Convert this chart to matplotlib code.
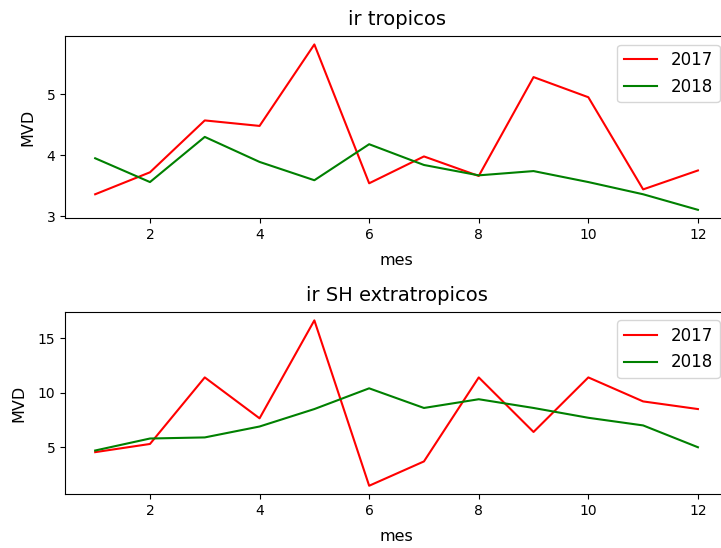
import matplotlib.pyplot as plt
from matplotlib.ticker import MultipleLocator

# months
mes = [1, 2, 3, 4, 5, 6, 7, 8, 9, 10, 11, 12]

# ir tropicos
trop_2017 = [3.36, 3.72, 4.57, 4.48, 5.815, 3.54, 3.98, 3.66, 5.28, 4.95, 3.44, 3.75]
trop_2018 = [3.95, 3.56, 4.30, 3.89, 3.59, 4.18, 3.84, 3.67, 3.74, 3.56, 3.36, 3.105]

# ir SH extratropicos
sh_2017 = [4.55, 5.3, 11.4, 7.65, 16.63, 1.47, 3.7, 11.4, 6.4, 11.4, 9.2, 8.5]
sh_2018 = [4.7, 5.8, 5.9, 6.9, 8.5, 10.4, 8.6, 9.4, 8.6, 7.7, 7.0, 5.0]

fig = plt.figure(figsize=(7.21, 5.48), dpi=100)

# top panel
ax1 = fig.add_axes([0.0902, 0.602, 0.9196, 0.332])
ax1.plot(mes, trop_2017, color='red', label='2017')
ax1.plot(mes, trop_2018, color='green', label='2018')
ax1.set_title('ir tropicos', fontsize=14, pad=8)
ax1.set_xlabel('mes', fontsize=11.5, labelpad=8)
ax1.set_ylabel('MVD', fontsize=11.5, labelpad=8)
ax1.yaxis.set_major_locator(MultipleLocator(1))
ax1.legend(loc='upper right', fontsize=12)

# bottom panel
ax2 = fig.add_axes([0.0902, 0.0985, 0.9196, 0.332])
ax2.plot(mes, sh_2017, color='red', label='2017')
ax2.plot(mes, sh_2018, color='green', label='2018')
ax2.set_title('ir SH extratropicos', fontsize=14, pad=8)
ax2.set_xlabel('mes', fontsize=11.5, labelpad=8)
ax2.set_ylabel('MVD', fontsize=11.5, labelpad=8)
ax2.legend(loc='upper right', fontsize=12)

fig.savefig('out.png', dpi=100)
